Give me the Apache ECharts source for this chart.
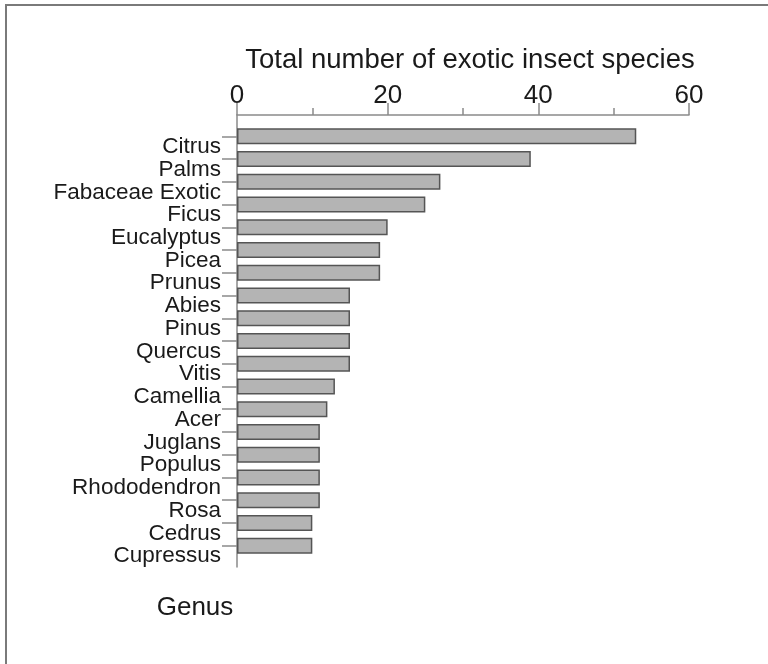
<!DOCTYPE html>
<html>
<head>
<meta charset="utf-8">
<script src="https://cdn.jsdelivr.net/npm/echarts@6/dist/echarts.min.js"></script>
<style>html,body{margin:0;padding:0;background:#fff;}#c{width:768px;height:664px;}</style>
</head>
<body>
<div id="c"></div>
<script>
const genera = ["Citrus","Palms","Fabaceae Exotic","Ficus","Eucalyptus","Picea","Prunus","Abies","Pinus","Quercus","Vitis","Camellia","Acer","Juglans","Populus","Rhododendron","Rosa","Cedrus","Cupressus"];
const speciesCounts = [53,39,27,25,20,19,19,15,15,15,15,13,12,11,11,11,11,10,10];
const xTicks = [0,20,40,60];
const xTitle = "Total number of exotic insect species";
const yTitle = "Genus";

const FONT = '"Liberation Sans", Arial, Helvetica, sans-serif';
const chart = echarts.init(document.getElementById('c'));
chart.setOption({
  animation: false,
  backgroundColor: '#ffffff',
  title: [
    { text: xTitle, left: 465, top: 41, textAlign: 'center',
      textStyle: { fontFamily: FONT, fontSize: 27.5, fontWeight: 'normal', color: '#1a1a1a' } },
    { text: yTitle, left: 190, top: 590, textAlign: 'center',
      textStyle: { fontFamily: FONT, fontSize: 26, fontWeight: 'normal', color: '#1a1a1a' } }
  ],
  graphic: [
    { type: 'rect', silent: true, shape: { x: 6, y: 5, width: 900, height: 900 },
      style: { fill: 'none', stroke: '#7a7a7a', lineWidth: 2 } }
  ],
  grid: [
    { left: 237, width: 452, top: 125, height: 432 },
    { left: 237, width: 452, top: 115, height: 452 }
  ],
  xAxis: [
    { gridIndex: 0, type: 'value', position: 'top', offset: 10,
      min: 0, max: 60, interval: 20,
      axisLine: { show: true, lineStyle: { color: '#8a8a8a', width: 1.5 } },
      axisTick: { show: true, length: 12, lineStyle: { color: '#8a8a8a', width: 1.5 } },
      minorTick: { show: true, splitNumber: 2, length: 7, lineStyle: { color: '#8a8a8a', width: 1.5 } },
      splitLine: { show: false },
      axisLabel: { margin: 6, fontFamily: FONT, fontSize: 26, color: '#1a1a1a',
        formatter: function (v) { return xTicks.indexOf(v) >= 0 ? String(v) : ''; } }
    },
    { gridIndex: 1, type: 'value', show: false, min: 0, max: 60 }
  ],
  yAxis: [
    { gridIndex: 0, type: 'category', data: genera, inverse: true,
      axisLine: { show: false },
      axisTick: { show: true, interval: 0, alignWithLabel: true, length: 15, lineStyle: { color: '#8a8a8a', width: 1.5 } },
      axisLabel: { interval: 0, margin: 16, fontFamily: FONT, fontSize: 22.5, color: '#1a1a1a',
        verticalAlign: 'top', lineHeight: 21 }
    },
    { gridIndex: 1, type: 'value', min: 0, max: 1,
      axisLine: { show: true, onZero: false, lineStyle: { color: '#8a8a8a', width: 1.5 } },
      axisTick: { show: false }, axisLabel: { show: false }, splitLine: { show: false } }
  ],
  series: [
    { type: 'bar', xAxisIndex: 0, yAxisIndex: 0, data: speciesCounts, barWidth: 16,
      itemStyle: { color: '#b4b4b4', borderColor: '#555555', borderWidth: 1.5 } }
  ]
});
</script>
</body>
</html>
